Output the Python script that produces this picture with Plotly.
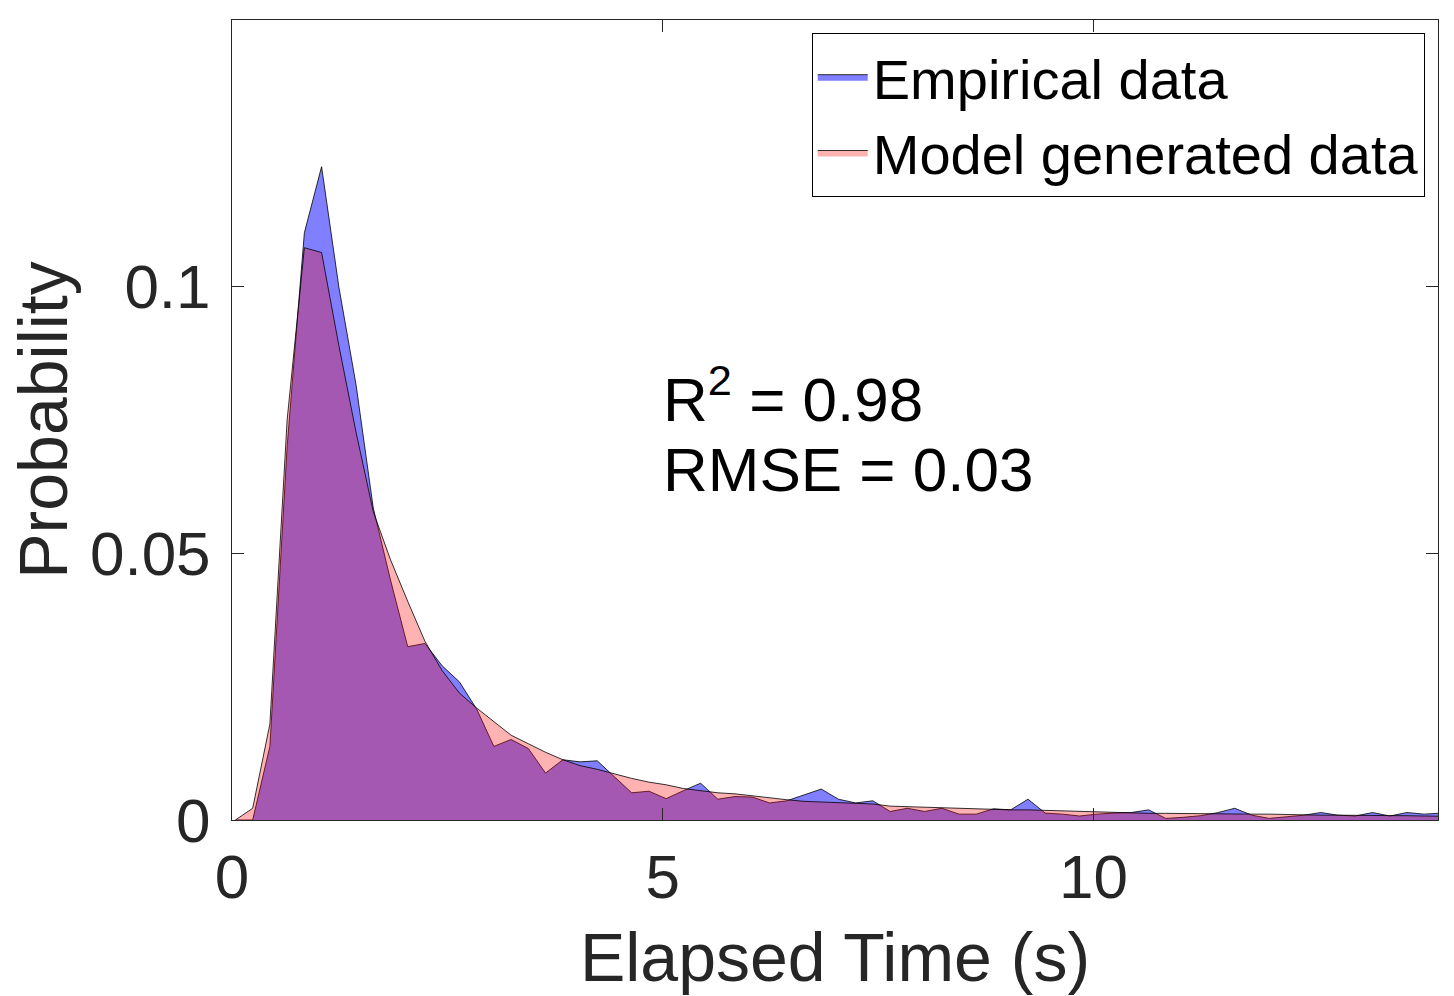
import plotly.graph_objects as go

# Bin centres of elapsed time (s)
elapsed_time = [0.04, 0.24, 0.44, 0.64, 0.84, 1.04, 1.24, 1.44, 1.64, 1.84,
                2.04, 2.24, 2.44, 2.64, 2.84, 3.04, 3.24, 3.44, 3.64, 3.84,
                4.04, 4.24, 4.44, 4.64, 4.84, 5.04, 5.24, 5.44, 5.64, 5.84,
                6.04, 6.24, 6.44, 6.64, 6.84, 7.04, 7.24, 7.44, 7.64, 7.84,
                8.04, 8.24, 8.44, 8.64, 8.84, 9.04, 9.24, 9.44, 9.64, 9.84,
                10.04, 10.24, 10.44, 10.64, 10.84, 11.04, 11.24, 11.44, 11.64, 11.84,
                12.04, 12.24, 12.44, 12.64, 12.84, 13.04, 13.24, 13.44, 13.64, 13.84,
                14.04]

empirical = [0.0, 0.0, 0.0138, 0.070, 0.1101, 0.1225, 0.100, 0.0816, 0.0585, 0.045,
             0.0325, 0.0331, 0.0289, 0.0259, 0.0208, 0.0138, 0.0151, 0.0134, 0.0088, 0.0113,
             0.0109, 0.0111, 0.0081, 0.0051, 0.0054, 0.0040, 0.0055, 0.0069, 0.0039, 0.0044,
             0.0043, 0.0032, 0.0036, 0.0047, 0.0058, 0.0039, 0.0032, 0.0036, 0.0016, 0.0022,
             0.0016, 0.0022, 0.0011, 0.0011, 0.0021, 0.0019, 0.0039, 0.0013, 0.0011, 0.00075,
             0.0011, 0.0013, 0.0014, 0.0019, 0.0003, 0.0005, 0.0008, 0.00137, 0.0022, 0.0009,
             0.0003, 0.0006, 0.0009, 0.0014, 0.0009, 0.00075, 0.0014, 0.00075, 0.0014, 0.0011,
             0.0013]

model = [0.0, 0.0022, 0.018, 0.075, 0.1073, 0.1064, 0.089, 0.0727, 0.0578, 0.0488,
         0.041, 0.0335, 0.0280, 0.0238, 0.0210, 0.0184, 0.0159, 0.0143, 0.0127, 0.0113,
         0.0102, 0.0095, 0.0086, 0.0078, 0.0071, 0.0066, 0.0059, 0.0055, 0.0051, 0.0049,
         0.0045, 0.0041, 0.0038, 0.0035, 0.0034, 0.0032, 0.0031, 0.0030, 0.0026, 0.0025,
         0.0024, 0.0023, 0.0021, 0.0020, 0.0020, 0.0019, 0.0019, 0.0018, 0.0017, 0.0016,
         0.0016, 0.0014, 0.0014, 0.00125, 0.00125, 0.0012, 0.0012, 0.0012, 0.0011, 0.0011,
         0.0011, 0.0010, 0.0010, 0.0009, 0.0009, 0.0009, 0.0009, 0.0008, 0.0008, 0.00075,
         0.0007]

x_ticks = [0, 5, 10]
x_tick_labels = ["0", "5", "10"]
y_ticks = [0, 0.05, 0.1]
y_tick_labels = ["0", "0.05", "0.1"]

FONT = "Liberation Sans, Arial, Helvetica, sans-serif"
AX = "#262626"

fig = go.Figure()
fig.add_trace(go.Scatter(
    x=elapsed_time, y=empirical, mode="lines", fill="tozeroy",
    fillcolor="rgba(0,0,255,0.5)", line=dict(color="black", width=0.8),
    name="Empirical data"))
fig.add_trace(go.Scatter(
    x=elapsed_time, y=model, mode="lines", fill="tozeroy",
    fillcolor="rgba(255,0,0,0.3)", line=dict(color="black", width=0.8),
    name="Model generated data"))

fig.add_annotation(x=4.98, y=0.0797, xref="x", yref="y", xanchor="left", yanchor="middle",
                   text="R<sup>2</sup> = 0.98", showarrow=False,
                   font=dict(family=FONT, size=62, color="black"))
fig.add_annotation(x=4.98, y=0.0657, xref="x", yref="y", xanchor="left", yanchor="middle",
                   text="RMSE = 0.03", showarrow=False,
                   font=dict(family=FONT, size=62, color="black"))

fig.update_layout(
    width=1454, height=996,
    margin=dict(l=232, r=16, t=20, b=176),
    paper_bgcolor="white", plot_bgcolor="white",
    font=dict(family=FONT, color=AX),
    showlegend=True,
    legend=dict(x=0.989, y=0.984, xanchor="right", yanchor="top",
                bordercolor="black", borderwidth=1, bgcolor="white",
                font=dict(family=FONT, size=56, color="black"),
                itemwidth=50, tracegroupgap=0),
    xaxis=dict(range=[0, 14], tickvals=x_ticks, ticktext=x_tick_labels,
               ticks="inside", ticklen=12, tickcolor=AX, tickwidth=1,
               showline=True, linecolor=AX, linewidth=1, mirror="ticks",
               showgrid=False, zeroline=False,
               tickfont=dict(family=FONT, size=62, color=AX),
               ticklabelstandoff=3,
               title=dict(text="Elapsed Time (s)", standoff=22,
                          font=dict(family=FONT, size=68, color=AX))),
    yaxis=dict(range=[0, 0.15], tickvals=y_ticks, ticktext=y_tick_labels,
               ticks="inside", ticklen=12, tickcolor=AX, tickwidth=1,
               showline=True, linecolor=AX, linewidth=1, mirror="ticks",
               showgrid=False, zeroline=False,
               tickfont=dict(family=FONT, size=62, color=AX),
               ticklabelstandoff=8,
               title=dict(text="Probability", standoff=0,
                          font=dict(family=FONT, size=68, color=AX))),
)

fig.write_html("out.html")
